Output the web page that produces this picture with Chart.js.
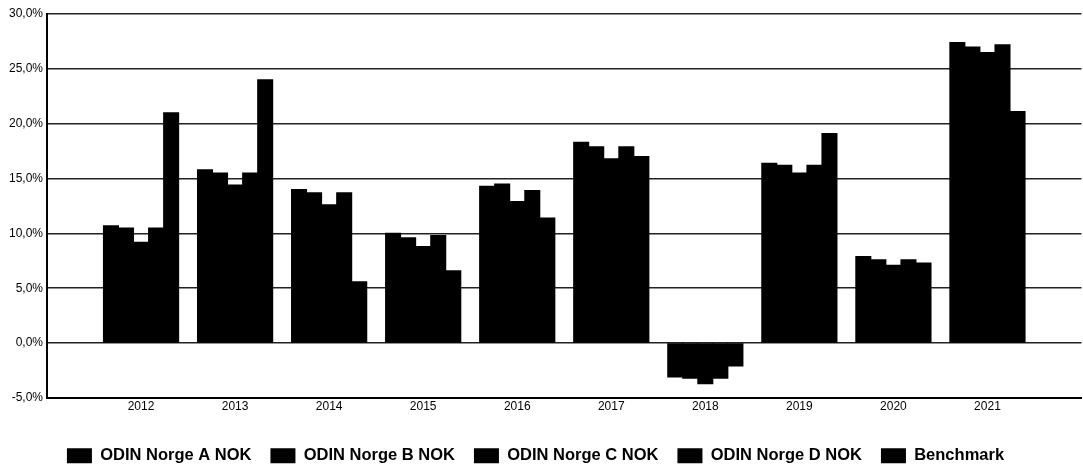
<!DOCTYPE html>
<html>
<head>
<meta charset="utf-8">
<script src="https://cdn.jsdelivr.net/npm/chart.js@4.4.1/dist/chart.umd.min.js"></script>
<style>
  html, body { margin: 0; padding: 0; background: #fff; }
  #wrap { width: 1083px; height: 466px; }
</style>
</head>
<body>
<div id="wrap"><canvas id="chartOdin"></canvas></div>
<script>
var years = ['2012', '2013', '2014', '2015', '2016', '2017', '2018', '2019', '2020', '2021'];
var norgeA = [10.7, 15.8, 14.0, 10.0, 14.3, 18.3, -3.1, 16.4, 7.9, 27.4];
var norgeB = [10.5, 15.5, 13.7, 9.6, 14.5, 17.9, -3.2, 16.2, 7.6, 27.0];
var norgeC = [9.2, 14.4, 12.6, 8.8, 12.9, 16.8, -3.7, 15.5, 7.1, 26.5];
var norgeD = [10.5, 15.5, 13.7, 9.8, 13.9, 17.9, -3.2, 16.2, 7.6, 27.2];
var benchmark = [21.0, 24.0, 5.6, 6.6, 11.4, 17.0, -2.1, 19.1, 7.3, 21.1];

var fontFam = '"Liberation Sans", Arial, sans-serif';

// empty slot before and after the years, like the original
var labels = [''].concat(years, ['']);
function pad(arr) { return [null].concat(arr, [null]); }

function ds(name, values) {
    return {
        label: name,
        data: pad(values),
        backgroundColor: '#000',
        borderWidth: 0,
        inflateAmount: 0.5,
        barPercentage: 1.0,
        categoryPercentage: 0.8
    };
}

var ctx = document.getElementById('chartOdin');
var myChart = new Chart(ctx, {
    type: 'bar',
    data: {
        labels: labels,
        datasets: [
            ds('ODIN Norge A NOK', norgeA),
            ds('ODIN Norge B NOK', norgeB),
            ds('ODIN Norge C NOK', norgeC),
            ds('ODIN Norge D NOK', norgeD),
            ds('Benchmark', benchmark)
        ]
    },
    options: {
        responsive: true,
        maintainAspectRatio: false,
        animation: false,
        // grid runs off the right edge in the original
        layout: { padding: { top: 14, right: -4, left: -16, bottom: -8 } },
        plugins: {
            tooltip: { enabled: false },
            legend: {
                position: 'bottom',
                labels: {
                    color: '#000',
                    boxWidth: 25,
                    boxHeight: 15,
                    padding: 19,
                    font: { family: fontFam, size: 16.5, weight: 'bold' }
                }
            }
        },
        scales: {
            x: {
                offset: false,
                grid: { display: false, drawTicks: false },
                border: { display: true, color: '#000', width: 2 },
                ticks: {
                    color: '#000',
                    padding: 1.5,
                    autoSkip: false,
                    maxRotation: 0,
                    font: { family: fontFam, size: 12 }
                },
                afterFit: function (scale) { scale.height = 30.6; }
            },
            y: {
                min: -5,
                max: 30,
                grid: { color: '#222', lineWidth: 1.6, drawTicks: false },
                border: { display: true, color: '#000', width: 2 },
                ticks: {
                    stepSize: 5,
                    color: '#000',
                    padding: 4,
                    font: { family: fontFam, size: 12 },
                    callback: function (v) { return v.toFixed(1).replace('.', ',') + '%'; }
                },
                afterFit: function (scale) { scale.width = 63; }
            }
        }
    }
});
</script>
</body>
</html>
